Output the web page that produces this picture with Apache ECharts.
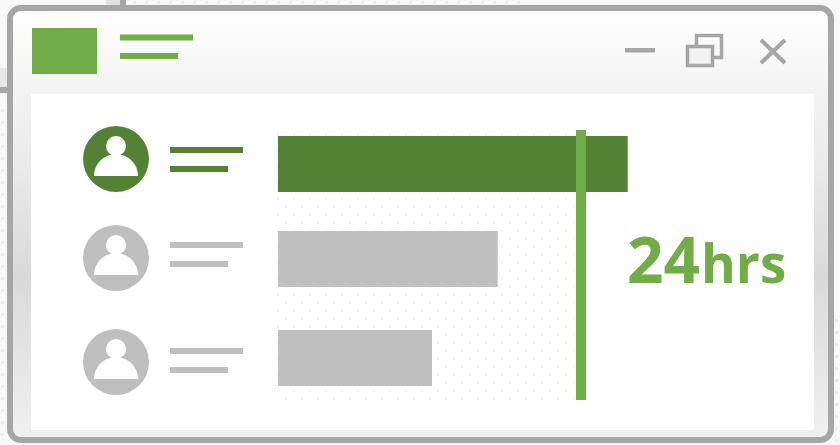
<!DOCTYPE html>
<html>
<head>
<meta charset="utf-8">
<title>24hrs</title>
<script src="https://cdn.jsdelivr.net/npm/echarts@6/dist/echarts.min.js"></script>
<style>
html, body { margin: 0; padding: 0; background: #fff; }
#main { width: 840px; height: 445px; }
</style>
</head>
<body>
<div id="main"></div>
<script>
// values, in hours
var categories = ['Row 1', 'Row 2', 'Row 3'];
var hours = [27.7, 17.4, 12.2];
var targetHours = [24, 24];
var targetEnds = [0, 1];
var hoursLabel = '24';
var unitLabel = 'hrs';

var darkGreen = '#548235';
var green = '#70ad47';
var gray = '#bfbfbf';
var frame = '#a6a6a6';

var barColors = [darkGreen, gray, gray];
var barTops = [136, 231, 330];
var avatarY = [159, 258, 362];
var lineTops = [147, 242, 348];

var chart = echarts.init(document.getElementById('main'));

// tile for the faint dots, offset so they line up with the reference
function dotTile(size, gap, x, y, color) {
    var c = document.createElement('canvas');
    c.width = c.height = gap * 2;
    var ctx = c.getContext('2d');
    ctx.fillStyle = color;
    ctx.fillRect(x, y, size, size);
    ctx.fillRect((x + gap) % (gap * 2), (y + gap) % (gap * 2), size, size);
    return { image: c, repeat: 'repeat' };
}

function rect(x, y, w, h, fill, z) {
    return { type: 'rect', shape: { x: x, y: y, width: w, height: h }, style: { fill: fill }, z: z || 0, silent: true };
}

function bigText(text, x, y, size) {
    return {
        type: 'text',
        x: x,
        y: y,
        silent: true,
        style: {
            text: text,
            fontFamily: 'Open Sans',
            fontWeight: 'bold',
            fontSize: size,
            fill: green,
            verticalAlign: 'middle'
        }
    };
}

var panelDots = dotTile(2, 8, 5, 6, '#f1f1f1');
var outerDots = dotTile(3, 6, 1, 1, '#ececec');

var graphics = [
    // whatever sits behind the window
    rect(0, 0, 840, 445, '#f8f8f8'),
    rect(0, 108, 7, 337, outerDots),
    rect(127, 0, 398, 5, outerDots),
    rect(834, 310, 6, 135, outerDots),
    rect(0, 68, 7, 20, '#e8e8e8'),
    rect(0, 87, 7, 6, frame),
    rect(106, 0, 15, 5, '#e2e2e2'),
    rect(120, 0, 6, 5, frame),
    // window
    {
        type: 'rect',
        shape: { x: 10, y: 8, width: 821, height: 432, r: 11 },
        style: {
            fill: {
                type: 'linear', x: 0, y: 0, x2: 0, y2: 1,
                colorStops: [
                    { offset: 0, color: '#ffffff' },
                    { offset: 0.2, color: '#f3f3f3' },
                    { offset: 0.35, color: '#ebebeb' },
                    { offset: 0.62, color: '#d9d9d9' },
                    { offset: 0.97, color: '#efefef' },
                    { offset: 1, color: '#efefef' }
                ]
            },
            stroke: frame,
            lineWidth: 6
        },
        silent: true
    },
    rect(31, 94, 783, 336, '#ffffff'),
    rect(277, 134, 297, 266, panelDots),
    // title bar
    rect(32, 28, 65, 46, green),
    rect(120, 34.5, 73, 6, green),
    rect(120, 53, 58, 6, green),
    rect(625, 48, 30, 4.5, frame),
    { type: 'rect', shape: { x: 696.5, y: 35.5, width: 25, height: 22 }, style: { fill: 'none', stroke: frame, lineWidth: 3.5 }, silent: true },
    { type: 'rect', shape: { x: 687.5, y: 46.5, width: 25, height: 19 }, style: { fill: '#f2f2f2', stroke: frame, lineWidth: 3.5 }, silent: true },
    { type: 'line', shape: { x1: 761, y1: 40, x2: 785, y2: 63 }, style: { stroke: frame, lineWidth: 4 }, silent: true },
    { type: 'line', shape: { x1: 785, y1: 40, x2: 761, y2: 63 }, style: { stroke: frame, lineWidth: 4 }, silent: true },
    // big label, two pieces so they share a baseline
    bigText(hoursLabel, 627, 265, 64),
    bigText(unitLabel, 701, 268, 53)
];

// avatar and the two placeholder lines for each row
categories.forEach(function (name, i) {
    var cy = avatarY[i];
    var color = barColors[i];
    graphics.push(
        { type: 'circle', shape: { cx: 116, cy: cy, r: 33 }, style: { fill: color }, silent: true },
        { type: 'circle', shape: { cx: 116, cy: cy - 13, r: 10 }, style: { fill: '#fff' }, silent: true },
        { type: 'sector', shape: { cx: 116, cy: cy + 17, r: 22, r0: 0, startAngle: Math.PI, endAngle: Math.PI * 2 }, style: { fill: '#fff' }, silent: true },
        rect(170, lineTops[i], 73, 6, color),
        rect(170, lineTops[i] + 19, 58, 6, color)
    );
});

// one grid per bar because the rows are not quite evenly spaced,
// the last grid only holds the 24h line
var grids = [], xAxes = [], yAxes = [], series = [];
categories.forEach(function (name, i) {
    grids.push({ left: 278, top: barTops[i], width: 404, height: 56 });
    xAxes.push({ type: 'value', gridIndex: i, min: 0, max: 32, show: false });
    yAxes.push({ type: 'category', gridIndex: i, data: [name], show: false });
    series.push({
        type: 'bar',
        xAxisIndex: i,
        yAxisIndex: i,
        barWidth: 56,
        silent: true,
        data: [{ value: hours[i], itemStyle: { color: barColors[i] } }]
    });
});

var last = categories.length;
grids.push({ left: 278, top: 130, width: 404, height: 270 });
xAxes.push({ type: 'value', gridIndex: last, min: 0, max: 32, show: false });
yAxes.push({ type: 'value', gridIndex: last, min: 0, max: 1, show: false });
series.push({
    type: 'line',
    xAxisIndex: last,
    yAxisIndex: last,
    symbol: 'none',
    silent: true,
    z: 5,
    lineStyle: { color: green, width: 10, cap: 'butt' },
    data: targetHours.map(function (h, i) { return [h, targetEnds[i]]; })
});

chart.setOption({
    animation: false,
    tooltip: { show: false },
    grid: grids,
    xAxis: xAxes,
    yAxis: yAxes,
    series: series,
    graphic: { elements: graphics }
});
</script>
</body>
</html>
